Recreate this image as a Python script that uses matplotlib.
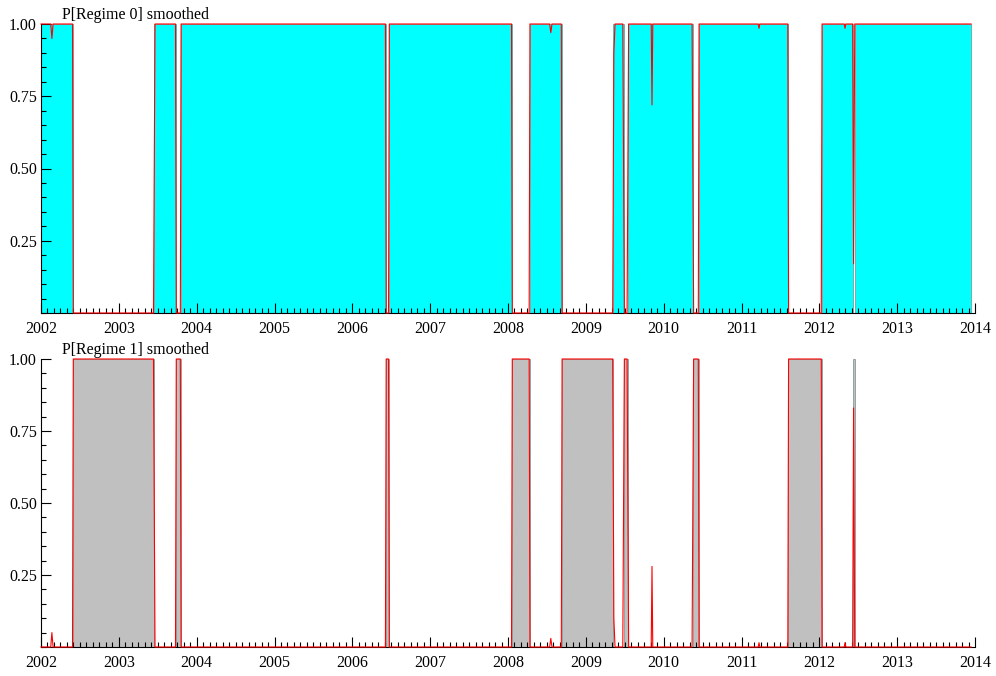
import matplotlib
matplotlib.use("Agg")
import matplotlib.pyplot as plt
import numpy as np
from matplotlib.ticker import MultipleLocator, FixedLocator

# smoothed probability of regime 0, read at its turning points (decimal years)
p0_dates = [2002.00, 2002.125, 2002.14, 2002.155, 2002.405, 2002.415,
            2003.445, 2003.465, 2003.728, 2003.738, 2003.79, 2003.80,
            2006.425, 2006.435, 2006.465, 2006.475,
            2008.045, 2008.055, 2008.272, 2008.282, 2008.535, 2008.55, 2008.565,
            2008.685, 2008.695, 2009.345, 2009.36, 2009.375,
            2009.475, 2009.495, 2009.53, 2009.55,
            2009.84, 2009.85, 2009.86,
            2010.365, 2010.385, 2010.445, 2010.455,
            2011.215, 2011.225, 2011.235,
            2011.595, 2011.605, 2012.025, 2012.035,
            2012.32, 2012.33, 2012.34,
            2012.428, 2012.44, 2012.455, 2013.95]
p0_vals = [1.0, 1.0, 0.95, 1.0, 1.0, 0.0,
           0.0, 1.0, 1.0, 0.0, 0.0, 1.0,
           1.0, 0.0, 0.0, 1.0,
           1.0, 0.0, 0.0, 1.0, 1.0, 0.97, 1.0,
           1.0, 0.0, 0.0, 0.9, 1.0,
           1.0, 0.0, 0.0, 1.0,
           1.0, 0.72, 1.0,
           1.0, 0.0, 0.0, 1.0,
           1.0, 0.985, 1.0,
           1.0, 0.0, 0.0, 1.0,
           1.0, 0.985, 1.0,
           1.0, 0.17, 1.0, 1.0]

# periods classified into each regime (start, end)
regime0_spans = [(2002.00, 2002.41), (2003.455, 2003.733), (2003.795, 2006.43),
                 (2006.47, 2008.05), (2008.277, 2008.69), (2009.355, 2009.485),
                 (2009.545, 2010.375), (2010.45, 2011.60), (2012.03, 2012.432),
                 (2012.458, 2013.95)]
regime1_spans = [(2002.41, 2003.455), (2003.733, 2003.795), (2006.43, 2006.47),
                 (2008.05, 2008.277), (2008.69, 2009.355), (2009.485, 2009.545),
                 (2010.375, 2010.45), (2011.60, 2012.03), (2012.432, 2012.458)]

years = list(range(2002, 2015))
titles = ["P[Regime 0] smoothed", "P[Regime 1] smoothed"]

# the two regime probabilities add up to one
p1_vals = [1.0 - v for v in p0_vals]

plt.rcParams['font.family'] = ['Liberation Serif', 'DejaVu Serif']

fig = plt.figure(figsize=(9.96, 6.76), dpi=100)
ax0 = fig.add_axes([41/996, 1 - 313/676, 934/996, 289/676])
ax1 = fig.add_axes([41/996, 1 - 647/676, 934/996, 288/676])

panels = [(ax0, regime0_spans, p0_vals, '#00ffff'),
          (ax1, regime1_spans, p1_vals, '#c0c0c0')]

for i, (ax, spans, vals, shade) in enumerate(panels):
    for a, b in spans:
        ax.axvspan(a, b, ymin=0, ymax=1, facecolor=shade,
                   edgecolor='#7a8a8a', linewidth=0.5, zorder=1)
    ax.plot(p0_dates, vals, color='red', linewidth=0.8, zorder=3, clip_on=False)

    ax.set_xlim(2002, 2014)
    ax.set_ylim(0, 1)
    ax.xaxis.set_major_locator(FixedLocator(years))
    ax.xaxis.set_minor_locator(MultipleLocator(1/12))
    ax.set_xticklabels([str(y) for y in years])
    ax.yaxis.set_major_locator(FixedLocator([0.25, 0.5, 0.75, 1.0]))
    ax.yaxis.set_minor_locator(MultipleLocator(0.05))
    ax.set_yticklabels(["0.25", "0.50", "0.75", "1.00"])

    ax.tick_params(which='major', direction='in', length=7, width=0.8,
                   labelsize=11.5, pad=6)
    ax.tick_params(which='minor', direction='in', length=3.5, width=0.8)
    ax.tick_params(axis='y', pad=3)
    for s in ['top', 'right']:
        ax.spines[s].set_visible(False)
    ax.spines['left'].set_linewidth(0.8)
    ax.spines['bottom'].set_linewidth(0.8)
    ax.set_axisbelow(False)

    ax.text(0.0225, 1.003, titles[i], transform=ax.transAxes,
            ha='left', va='bottom', fontsize=11.5)

fig.savefig("out.png", dpi=100)
